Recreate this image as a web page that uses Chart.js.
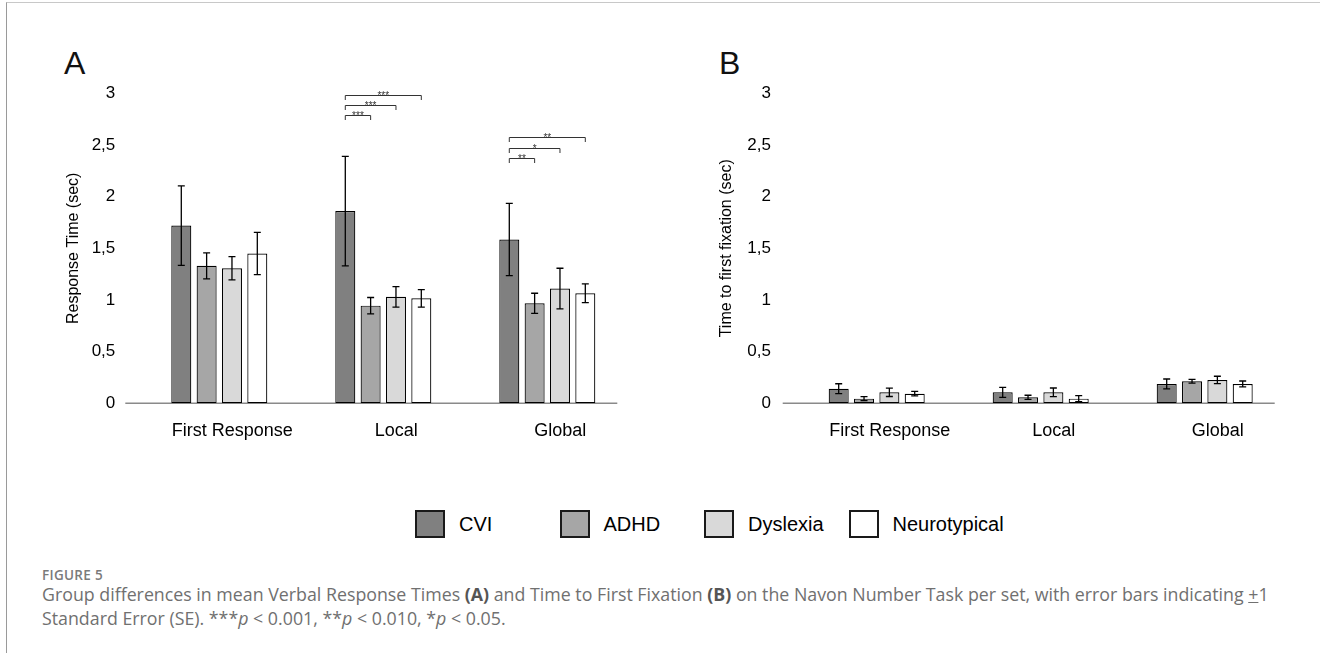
<!DOCTYPE html>
<html>
<head>
<meta charset="utf-8">
<script src="https://cdn.jsdelivr.net/npm/chart.js@4.4.1/dist/chart.umd.min.js"></script>
<style>
  html, body { margin: 0; padding: 0; background: #fff; }
  body { width: 1320px; height: 653px; position: relative; overflow: hidden; font-family: 'Liberation Sans', Arial, sans-serif; }
  .frame { position: absolute; left: 6px; top: 2px; right: 0; bottom: 0; border-left: 1px solid #9a9a9a; border-top: 1px solid #c8c8c8; }
  .panel { position: absolute; top: 0; width: 660px; height: 470px; }
  .letter { position: absolute; top: 47px; font-size: 32px; line-height: 32px; color: #111; }
  #legend { position: absolute; left: 415px; top: 510px; display: flex; }
  .item { width: 144.5px; height: 28px; display: flex; align-items: center; font-size: 20px; color: #000; }
  .swatch { width: 30px; height: 28px; box-sizing: border-box; border: 2px solid #1a1a1a; margin-right: 14px; flex: none; }
  .figno { position: absolute; left: 42px; top: 565.5px; font-family: 'Open Sans', sans-serif; font-size: 13.5px; line-height: 18px; font-weight: 600; color: #7a7a7a; letter-spacing: 0.3px; }
  .caption { position: absolute; left: 42px; top: 582px; font-family: 'Open Sans', sans-serif; font-size: 17.8px; line-height: 24px; color: #707070; white-space: nowrap; }
  .caption b { color: #555; }
</style>
</head>
<body>
<div class="frame"></div>
<div class="letter" style="left:64px">A</div>
<div class="letter" style="left:719px">B</div>
<canvas id="chartA" class="panel" style="left:0" width="660" height="470"></canvas>
<canvas id="chartB" class="panel" style="left:660px" width="660" height="470"></canvas>
<div id="legend"></div>
<div class="figno">FIGURE 5</div>
<div class="caption">Group differences in mean Verbal Response Times <b>(A)</b> and Time to First Fixation <b>(B)</b> on the Navon Number Task per set, with error bars indicating <u>+</u>1<br>Standard Error (SE). ***<i>p</i> &lt; 0.001, **<i>p</i> &lt; 0.010, *<i>p</i> &lt; 0.05.</div>
<script>
// ---------- data ----------
const categories = ['First Response', 'Local', 'Global'];
const groups = ['CVI', 'ADHD', 'Dyslexia', 'Neurotypical'];
const groupColors = ['#808080', '#a6a6a6', '#d9d9d9', '#ffffff'];

// A: verbal response time (sec), means per set
const rtCVI = [1.72, 1.86, 1.585];
const rtADHD = [1.33, 0.945, 0.968];
const rtDyslexia = [1.307, 1.03, 1.11];
const rtNeuro = [1.45, 1.016, 1.065];
// A: standard errors
const rtCVIse = [0.385, 0.53, 0.35];
const rtADHDse = [0.125, 0.079, 0.097];
const rtDyslexiaSe = [0.113, 0.10, 0.197];
const rtNeuroSe = [0.205, 0.085, 0.09];

// B: time to first fixation (sec), means per set
const ffCVI = [0.141, 0.106, 0.187];
const ffADHD = [0.045, 0.058, 0.213];
const ffDyslexia = [0.106, 0.106, 0.226];
const ffNeuro = [0.093, 0.045, 0.187];
// B: standard errors
const ffCVIse = [0.048, 0.048, 0.048];
const ffADHDse = [0.02, 0.02, 0.018];
const ffDyslexiaSe = [0.04, 0.042, 0.036];
const ffNeuroSe = [0.022, 0.03, 0.029];

// significance brackets on panel A (group index from -> to, within a set)
const sigCategory = [1, 1, 1, 2, 2, 2];
const sigFrom = [0, 0, 0, 0, 0, 0];
const sigTo = [1, 2, 3, 1, 2, 3];
const sigLevel = [2.79, 2.885, 2.98, 2.378, 2.474, 2.575];
const sigLabel = ['***', '***', '***', '**', '*', '**'];

const FONT = "'Liberation Sans', Arial, sans-serif";

// ---------- plugins ----------
const errorBars = {
  id: 'errorBars',
  afterDatasetsDraw(chart) {
    const ctx = chart.ctx, y = chart.scales.y;
    chart.data.datasets.forEach((ds, i) => {
      chart.getDatasetMeta(i).data.forEach((bar, j) => {
        const top = y.getPixelForValue(ds.data[j] + ds.errors[j]);
        const bot = y.getPixelForValue(ds.data[j] - ds.errors[j]);
        ctx.save();
        ctx.strokeStyle = '#000';
        ctx.lineWidth = 1.3;
        ctx.beginPath();
        ctx.moveTo(bar.x, top); ctx.lineTo(bar.x, bot);
        ctx.moveTo(bar.x - 3.5, top); ctx.lineTo(bar.x + 3.5, top);
        ctx.moveTo(bar.x - 3.5, bot); ctx.lineTo(bar.x + 3.5, bot);
        ctx.stroke();
        ctx.restore();
      });
    });
  }
};

// the axis line in the original sits a little left of the bar groups
const baseLine = {
  id: 'baseLine',
  beforeDatasetsDraw(chart) {
    const ctx = chart.ctx, a = chart.chartArea;
    const y0 = chart.scales.y.getPixelForValue(0);
    ctx.save();
    ctx.strokeStyle = '#8a8a8a';
    ctx.lineWidth = 1.6;
    ctx.beginPath();
    ctx.moveTo(a.left - 12, y0);
    ctx.lineTo(a.right - 12, y0);
    ctx.stroke();
    ctx.restore();
  }
};

const brackets = {
  id: 'brackets',
  afterDatasetsDraw(chart) {
    const ctx = chart.ctx, y = chart.scales.y;
    sigLevel.forEach((lvl, k) => {
      const x1 = chart.getDatasetMeta(sigFrom[k]).data[sigCategory[k]].x;
      const x2 = chart.getDatasetMeta(sigTo[k]).data[sigCategory[k]].x;
      const py = Math.round(y.getPixelForValue(lvl)) + 0.5;
      ctx.save();
      ctx.strokeStyle = '#333';
      ctx.lineWidth = 1;
      ctx.beginPath();
      ctx.moveTo(x1, py + 4.5); ctx.lineTo(x1, py); ctx.lineTo(x2, py); ctx.lineTo(x2, py + 4.5);
      ctx.stroke();
      ctx.fillStyle = '#333';
      ctx.font = '10px ' + FONT;
      ctx.textAlign = 'center';
      ctx.textBaseline = 'alphabetic';
      ctx.fillText(sigLabel[k], (x1 + x2) / 2, py + 3);
      ctx.restore();
    });
  }
};

// ---------- charts ----------
function makeDatasets(values, errors) {
  return groups.map((g, i) => ({
    label: g,
    data: values[i],
    errors: errors[i],
    backgroundColor: groupColors[i],
    borderColor: '#000',
    borderWidth: 1.2,
    borderSkipped: false,
    categoryPercentage: 0.618,
    barPercentage: 0.79
  }));
}

function panelOptions(yTitle, padLeft, axisWidth, padRight, tickPad) {
  return {
    responsive: false,
    animation: false,
    events: [],
    layout: { padding: { left: padLeft, right: padRight, top: 93.3, bottom: 26.7 } },
    plugins: { legend: { display: false }, tooltip: { enabled: false } },
    scales: {
      x: {
        grid: { display: false, drawTicks: false },
        border: { display: false },
        ticks: { color: '#000', font: { family: FONT, size: 18 }, padding: 17, labelOffset: 13, maxRotation: 0, autoSkip: false },
        afterFit: s => { s.height = 40; }
      },
      y: {
        min: 0, max: 3,
        grid: { display: false, drawTicks: false },
        border: { display: false },
        ticks: { stepSize: 0.5, color: '#000', font: { family: FONT, size: 17 }, padding: tickPad,
                 callback: v => String(v).replace('.', ',') },
        title: { display: true, text: yTitle, color: '#000', font: { family: FONT, size: 16 }, padding: { top: 4, bottom: 4 } },
        afterFit: s => { s.width = axisWidth; }
      }
    }
  };
}

new Chart(document.getElementById('chartA'), {
  type: 'bar',
  data: { labels: categories, datasets: makeDatasets([rtCVI, rtADHD, rtDyslexia, rtNeuro], [rtCVIse, rtADHDse, rtDyslexiaSe, rtNeuroSe]) },
  options: panelOptions('Response Time (sec)', 60, 77.3, 30.7, 22),
  plugins: [baseLine, errorBars, brackets]
});

new Chart(document.getElementById('chartB'), {
  type: 'bar',
  data: { labels: categories, datasets: makeDatasets([ffCVI, ffADHD, ffDyslexia, ffNeuro], [ffCVIse, ffADHDse, ffDyslexiaSe, ffNeuroSe]) },
  options: panelOptions('Time to first fixation (sec)', 52.9, 81.8, 33.3, 23.7),
  plugins: [baseLine, errorBars]
});

// ---------- legend ----------
const legend = document.getElementById('legend');
groups.forEach((g, i) => {
  const item = document.createElement('div');
  item.className = 'item';
  const sw = document.createElement('div');
  sw.className = 'swatch';
  sw.style.background = groupColors[i];
  item.appendChild(sw);
  item.appendChild(document.createTextNode(g));
  legend.appendChild(item);
});
</script>
</body>
</html>
